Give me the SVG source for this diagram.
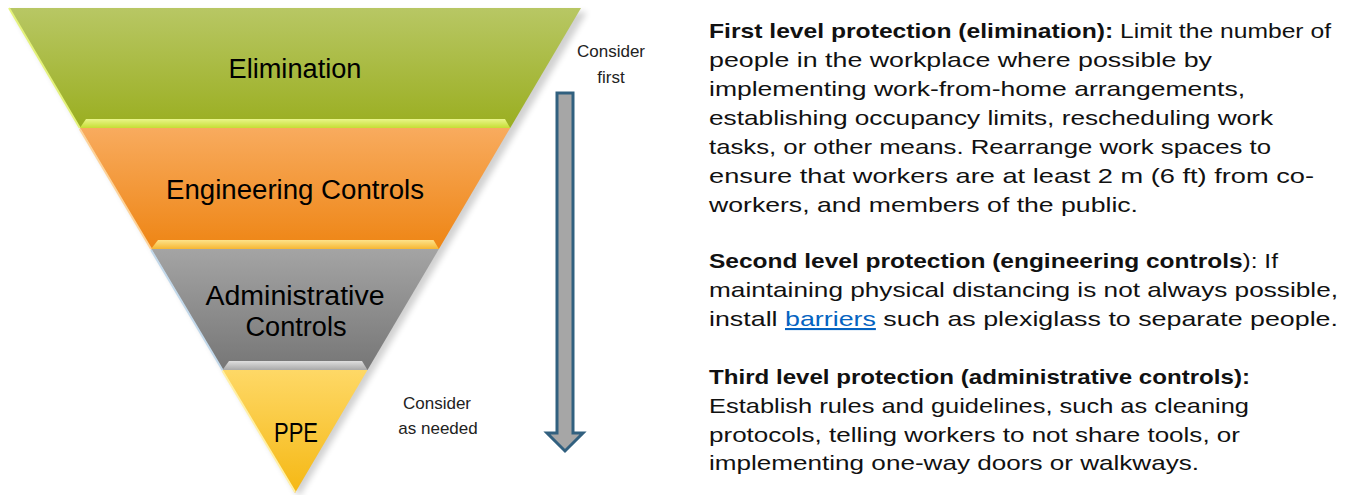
<svg xmlns="http://www.w3.org/2000/svg" width="1348" height="495" viewBox="0 0 1348 495">
<defs>
  <linearGradient id="gGreen" x1="0" y1="0" x2="0" y2="1"><stop offset="0" stop-color="#b8c764"/><stop offset="1" stop-color="#9aae20"/></linearGradient>
  <linearGradient id="gOrange" x1="0" y1="0" x2="0" y2="1"><stop offset="0" stop-color="#f8ab5e"/><stop offset="1" stop-color="#ee8514"/></linearGradient>
  <linearGradient id="gGray" x1="0" y1="0" x2="0" y2="1"><stop offset="0" stop-color="#a4a4a4"/><stop offset="1" stop-color="#767676"/></linearGradient>
  <linearGradient id="gYellow" x1="0" y1="0" x2="0" y2="1"><stop offset="0" stop-color="#fed866"/><stop offset="1" stop-color="#f5b814"/></linearGradient>
  <linearGradient id="bGreen" x1="0" y1="0" x2="0" y2="1"><stop offset="0" stop-color="#eaf58a"/><stop offset="1" stop-color="#c6de34"/></linearGradient>
  <linearGradient id="bOrange" x1="0" y1="0" x2="0" y2="1"><stop offset="0" stop-color="#fde38a"/><stop offset="1" stop-color="#f6b632"/></linearGradient>
  <linearGradient id="bGray" x1="0" y1="0" x2="0" y2="1"><stop offset="0" stop-color="#dedede"/><stop offset="1" stop-color="#a9a9a9"/></linearGradient>
  <filter id="shadow" x="-10%" y="-10%" width="120%" height="120%"><feGaussianBlur stdDeviation="3"/></filter>
</defs>
<style>
  .lbl { font-family: "Liberation Sans", Arial, sans-serif; font-size: 27px; fill: #000; text-anchor: middle; }
  .note { font-family: "Liberation Sans", Arial, sans-serif; font-size: 17px; fill: #222; text-anchor: middle; }
  .body { font-family: "Liberation Sans", Arial, sans-serif; font-size: 21px; fill: #111; }
  .b { font-weight: bold; }
  .link { fill: #0563c1; text-decoration: underline; }
  .edge { fill: none; stroke-width: 2; }
</style>

<!-- soft shadow -->
<polygon points="13,12 587,12 299,497" fill="#000" opacity="0.18" filter="url(#shadow)"/>

<g id="elimination">
  <polygon points="9,8 581,8 510.2,128 79.8,128" fill="url(#gGreen)"/>
  <polygon points="79.8,128 510.2,128 505,119 86,119" fill="url(#bGreen)"/>
  <line class="edge" x1="9" y1="8" x2="79.8" y2="128" stroke="#e4f27c"/>
  <text class="lbl" x="295" y="78" textLength="133" lengthAdjust="spacingAndGlyphs">Elimination</text>
</g>
<g id="engineering">
  <polygon points="79.8,128 510.2,128 438.9,249 151.1,249" fill="url(#gOrange)"/>
  <polygon points="151.1,249 438.9,249 433.5,240 158,240" fill="url(#bOrange)"/>
  <line class="edge" x1="79.8" y1="129" x2="151.1" y2="249" stroke="#fdd39a"/>
  <text class="lbl" x="295" y="199" textLength="258" lengthAdjust="spacingAndGlyphs">Engineering Controls</text>
</g>
<g id="administrative">
  <polygon points="151.1,249 438.9,249 367.5,370 222.5,370" fill="url(#gGray)"/>
  <polygon points="222.5,370 367.5,370 362,361 229,361" fill="url(#bGray)"/>
  <line class="edge" x1="151.1" y1="250" x2="222.5" y2="370" stroke="#c2d8ea"/>
  <text class="lbl" x="295" y="305" textLength="179" lengthAdjust="spacingAndGlyphs">Administrative</text>
  <text class="lbl" x="296" y="336" textLength="101" lengthAdjust="spacingAndGlyphs">Controls</text>
</g>
<g id="ppe">
  <polygon points="222.5,370 367.5,370 295,493" fill="url(#gYellow)"/>
  <line class="edge" x1="222.5" y1="371" x2="295" y2="492" stroke="#fff0a6"/>
  <text class="lbl" x="296" y="442" textLength="44" lengthAdjust="spacingAndGlyphs">PPE</text>
</g>

<g id="connectors">
  <path d="M557,93 L573,93 L573,433 L583,433 L565,451 L547,433 L557,433 Z" fill="#a6a6a6" stroke="#31607f" stroke-width="3" stroke-linejoin="miter"/>
</g>

<g id="note-first">
  <text class="note" x="611" y="57">Consider</text>
  <text class="note" x="611" y="83">first</text>
</g>
<g id="note-needed">
  <text class="note" x="437" y="409">Consider</text>
  <text class="note" x="438" y="434">as needed</text>
</g>

<g id="description">
  <text class="body" x="709" y="38" textLength="622" lengthAdjust="spacingAndGlyphs"><tspan class="b">First level protection (elimination):</tspan> Limit the number of</text>
  <text class="body" x="709" y="67" textLength="503" lengthAdjust="spacingAndGlyphs">people in the workplace where possible by</text>
  <text class="body" x="709" y="96" textLength="536" lengthAdjust="spacingAndGlyphs">implementing work-from-home arrangements,</text>
  <text class="body" x="709" y="125" textLength="564" lengthAdjust="spacingAndGlyphs">establishing occupancy limits, rescheduling work</text>
  <text class="body" x="709" y="154" textLength="562" lengthAdjust="spacingAndGlyphs">tasks, or other means. Rearrange work spaces to</text>
  <text class="body" x="709" y="183" textLength="605" lengthAdjust="spacingAndGlyphs">ensure that workers are at least 2 m (6 ft) from co-</text>
  <text class="body" x="709" y="212" textLength="429" lengthAdjust="spacingAndGlyphs">workers, and members of the public.</text>

  <text class="body" x="709" y="268" textLength="569" lengthAdjust="spacingAndGlyphs"><tspan class="b">Second level protection (engineering controls</tspan>): If</text>
  <text class="body" x="709" y="297" textLength="629" lengthAdjust="spacingAndGlyphs">maintaining physical distancing is not always possible,</text>
  <text class="body" x="709" y="326" textLength="629" lengthAdjust="spacingAndGlyphs">install <tspan class="link">barriers</tspan> such as plexiglass to separate people.</text>

  <text class="body b" x="709" y="384" textLength="541" lengthAdjust="spacingAndGlyphs">Third level protection (administrative controls):</text>
  <text class="body" x="709" y="413" textLength="540" lengthAdjust="spacingAndGlyphs">Establish rules and guidelines, such as cleaning</text>
  <text class="body" x="709" y="442" textLength="531" lengthAdjust="spacingAndGlyphs">protocols, telling workers to not share tools, or</text>
  <text class="body" x="709" y="470" textLength="490" lengthAdjust="spacingAndGlyphs">implementing one-way doors or walkways.</text>
</g>
</svg>
